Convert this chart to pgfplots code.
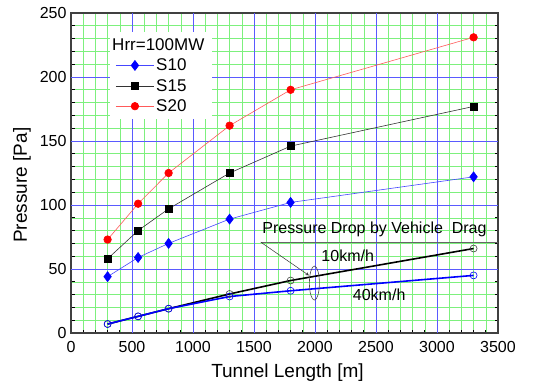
\documentclass[border=0pt]{standalone}
\usepackage{fontspec}
\setmainfont{Liberation Sans}
\usepackage{pgfplots}
\pgfplotsset{compat=1.18}
\definecolor{gridblue}{RGB}{90,90,255}
\definecolor{gridgreen}{RGB}{125,240,125}
\definecolor{sten}{RGB}{0,0,255}
\definecolor{stenline}{RGB}{70,70,255}
\definecolor{stwenty}{RGB}{255,0,0}
\definecolor{stwentyline}{RGB}{255,90,90}
\begin{document}
\begin{tikzpicture}
\begin{axis}[
  scale only axis, width=427pt, height=320pt,
  xmin=0, xmax=3500, ymin=0, ymax=250,
  xtick={0,500,...,3500}, ytick={0,50,...,250},
  minor x tick num=4, minor y tick num=4,
  grid=minor,
  minor grid style={gridgreen, line width=0.6pt},
  tick align=inside, xtick pos=left, ytick pos=both,
  major tick length=6pt, minor tick length=3.5pt,
  tick style={black, line width=0.8pt},
  axis line style={black!75, line width=1.2pt},
  /pgf/number format/assume math mode=true,
  /pgf/number format/set thousands separator={},
  ticklabel style={font=\fontsize{16}{18}\selectfont},
  xticklabel style={yshift=-5pt},
  yticklabel style={xshift=-1pt},
  label style={font=\fontsize{19}{21}\selectfont},
  xlabel={Tunnel Length [m]}, ylabel={Pressure [Pa]},
  xlabel style={yshift=-4pt, xshift=3pt},
  ylabel style={at={(ticklabel cs:0.462)}, yshift=2pt},
  clip=false,
  legend style={at={(axis description cs:0.09,0.94)}, anchor=north west,
    fill=white, draw=none, font=\fontsize{17}{19}\selectfont,
    inner xsep=6pt, inner ysep=4pt, row sep=3pt},
  legend cell align=left,
  legend image code/.code={\draw[mark repeat=2,mark phase=2,#1] plot coordinates {(0pt,0pt) (19pt,0pt) (38pt,0pt)};},
]
\pgfplotsinvokeforeach{500,1000,1500,2000,2500,3000}{
  \draw[gridblue, line width=0.6pt] (axis cs:#1,0) -- (axis cs:#1,250);
}
\pgfplotsinvokeforeach{50,100,150,200}{
  \draw[gridblue, line width=0.6pt] (axis cs:0,#1) -- (axis cs:3500,#1);
}
\addlegendimage{empty legend}
\addlegendentry{\hspace*{-44pt}Hrr=100MW}

\addplot[color=stenline, line width=0.6pt, mark=diamond*, mark size=5pt, mark options={sten, fill=sten}] coordinates {
 (300,44) (550,59) (800,70) (1300,89) (1800,102) (3300,122)};
\addlegendentry{S10}
\addplot[color=black!80, line width=0.6pt, mark=square*, mark size=3.4pt, mark options={black, fill=black}] coordinates {
 (300,58) (550,80) (800,97) (1300,125) (1800,146) (3300,177)};
\addlegendentry{S15}
\addplot[color=stwentyline, line width=0.6pt, mark=*, mark size=3.8pt, mark options={stwenty, fill=stwenty}] coordinates {
 (300,73) (550,101) (800,125) (1300,162) (1800,190) (3300,231)};
\addlegendentry{S20}

\addplot[forget plot, color=black, line width=1.6pt, mark=o, mark size=3.5pt, mark options={black!75, fill=white, line width=0.6pt}] coordinates {
 (300,7) (550,13) (800,19) (1300,30.5) (1800,41) (3300,66)};
\addplot[forget plot, color=sten, line width=1.6pt, mark=o, mark size=3.5pt, mark options={sten, fill=white, line width=0.6pt}] coordinates {
 (300,7) (550,13) (800,19) (1300,28.5) (1800,33) (3300,45)};

\draw[black!60, line width=0.6pt] (axis cs:1555,71) -- (axis cs:3500,71);
\draw[-stealth, black!80, line width=0.5pt] (axis cs:1555,71) -- (axis cs:1950,45);
\draw[black!70, line width=0.6pt] (axis cs:1995,39) ellipse [x radius=5pt, y radius=17pt];
\node[font=\fontsize{16}{18}\selectfont] at (axis cs:2488,81) {Pressure Drop by Vehicle\ \ Drag};
\node[font=\fontsize{16}{18}\selectfont] at (axis cs:2268,60) {10km/h};
\node[font=\fontsize{16}{18}\selectfont] at (axis cs:2526,30) {40km/h};
\end{axis}
\pgfresetboundingbox
\path ([shift={(-71pt,-52pt)}]current axis.south west) rectangle ([shift={(36pt,13pt)}]current axis.north east);
\end{tikzpicture}
\end{document}
